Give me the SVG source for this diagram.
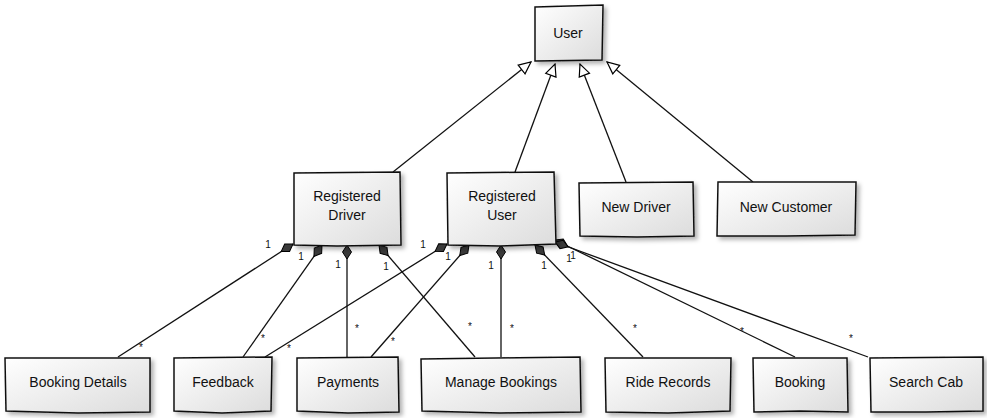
<svg xmlns="http://www.w3.org/2000/svg" width="987" height="418" viewBox="0 0 987 418">
<defs>
<linearGradient id="g" x1="0" y1="0" x2="1" y2="1">
<stop offset="0" stop-color="#ffffff"/>
<stop offset="1" stop-color="#dcdcdc"/>
</linearGradient>
<filter id="sh" x="-10%" y="-10%" width="130%" height="130%">
<feDropShadow dx="3" dy="3" stdDeviation="2" flood-color="#000" flood-opacity="0.3"/>
</filter>
<marker id="dia" viewBox="-1 -6 17 12" refX="0" refY="0" markerWidth="17" markerHeight="12" markerUnits="userSpaceOnUse" orient="auto">
<path d="M0,0 L7,-4.5 L14,0 L7,4.5 Z" fill="#3a3a3a" stroke="#000" stroke-width="1"/>
</marker>
<marker id="tri" viewBox="-1 -7 14 14" refX="12" refY="0" markerWidth="14" markerHeight="14" markerUnits="userSpaceOnUse" orient="auto">
<path d="M0,-5.5 L12,0 L0,5.5 Z" fill="#fff" stroke="#000" stroke-width="1.2"/>
</marker>
</defs>
<style>
.box{fill:url(#g);stroke:#111;stroke-width:1.5;filter:url(#sh)}
.t{font-family:"Liberation Sans","DejaVu Sans",sans-serif;font-size:14px;fill:#111;text-anchor:middle}
.c{stroke:#111;stroke-width:1.3;fill:none}
.comp{marker-start:url(#dia)}
.gen{marker-end:url(#tri)}
.m{font-family:"Liberation Sans","DejaVu Sans",sans-serif;font-size:10px;fill:#111;text-anchor:middle}
</style>
<g id="connectors">
<path class="c gen" d="M393,172 L531,62"/>
<path class="c gen" d="M515,172 L555,64"/>
<path class="c gen" d="M626,182 L580,64"/>
<path class="c gen" d="M753,182 L607,62"/>
<path class="c comp" d="M293,244 L118,357"/>
<path class="c comp" d="M322,245 L243,357"/>
<path class="c comp" d="M347,245 L347,357"/>
<path class="c comp" d="M379,245 L475,357"/>
<path class="c comp" d="M447,244 L265,357"/>
<path class="c comp" d="M469,245 L371,357"/>
<path class="c comp" d="M501,245 L501,357"/>
<path class="c comp" d="M535,245 L643,357"/>
<path class="c comp" d="M555,240 L795,357"/>
<path class="c comp" d="M555,242 L868,357"/>
<g>
<text class="m" x="268" y="248">1</text>
<text class="m" x="141" y="351">*</text>
<text class="m" x="301" y="260">1</text>
<text class="m" x="263" y="342">*</text>
<text class="m" x="338" y="268">1</text>
<text class="m" x="357" y="332">*</text>
<text class="m" x="386" y="270">1</text>
<text class="m" x="470" y="330">*</text>
<text class="m" x="423" y="248">1</text>
<text class="m" x="289" y="352">*</text>
<text class="m" x="448" y="260">1</text>
<text class="m" x="393" y="345">*</text>
<text class="m" x="491" y="269">1</text>
<text class="m" x="512" y="332">*</text>
<text class="m" x="544" y="269">1</text>
<text class="m" x="635" y="332">*</text>
<text class="m" x="569" y="262">1</text>
<text class="m" x="742" y="335">*</text>
<text class="m" x="573" y="259">1</text>
<text class="m" x="851" y="342">*</text>
</g>
</g>
<g id="user">
<path class="box" d="M535,7 L603,5 L602,60 L535,61 Z"/>
<text class="t" x="568" y="38">User</text>
</g>
<g id="registered-driver">
<path class="box" d="M294,173 L400,172 L401,245 L337,246 L294,245 Z"/>
<text class="t" x="347" y="201">Registered</text>
<text class="t" x="347" y="220">Driver</text>
</g>
<g id="registered-user">
<path class="box" d="M447,173 L554,172 L556,244 L500,246 L448,245 Z"/>
<text class="t" x="502" y="201">Registered</text>
<text class="t" x="502" y="220">User</text>
</g>
<g id="new-driver">
<path class="box" d="M579,183 L693,182 L694,236 L637,237 L580,236 Z"/>
<text class="t" x="636" y="212">New Driver</text>
</g>
<g id="new-customer">
<path class="box" d="M718,182 L856,182 L855,235 L786,236 L717,236 Z"/>
<text class="t" x="786" y="212">New Customer</text>
</g>
<g id="booking-details">
<path class="box" d="M5,358 L150,358 L150,412 L78,413 L6,411 Z"/>
<text class="t" x="78" y="387">Booking Details</text>
</g>
<g id="feedback">
<path class="box" d="M174,358 L272,357 L271,411 L222,413 L174,411 Z"/>
<text class="t" x="223" y="387">Feedback</text>
</g>
<g id="payments">
<path class="box" d="M297,358 L398,357 L399,412 L348,413 L297,411 Z"/>
<text class="t" x="348" y="387">Payments</text>
</g>
<g id="manage-bookings">
<path class="box" d="M421,359 L580,357 L581,412 L500,413 L422,411 Z"/>
<text class="t" x="501" y="387">Manage Bookings</text>
</g>
<g id="ride-records">
<path class="box" d="M605,358 L731,358 L730,411 L668,413 L606,412 Z"/>
<text class="t" x="668" y="387">Ride Records</text>
</g>
<g id="booking">
<path class="box" d="M753,358 L847,358 L848,412 L800,411 L754,412 Z"/>
<text class="t" x="800" y="387">Booking</text>
</g>
<g id="search-cab">
<path class="box" d="M870,358 L983,357 L983,411 L926,412 L871,412 Z"/>
<text class="t" x="926" y="387">Search Cab</text>
</g>
</svg>
